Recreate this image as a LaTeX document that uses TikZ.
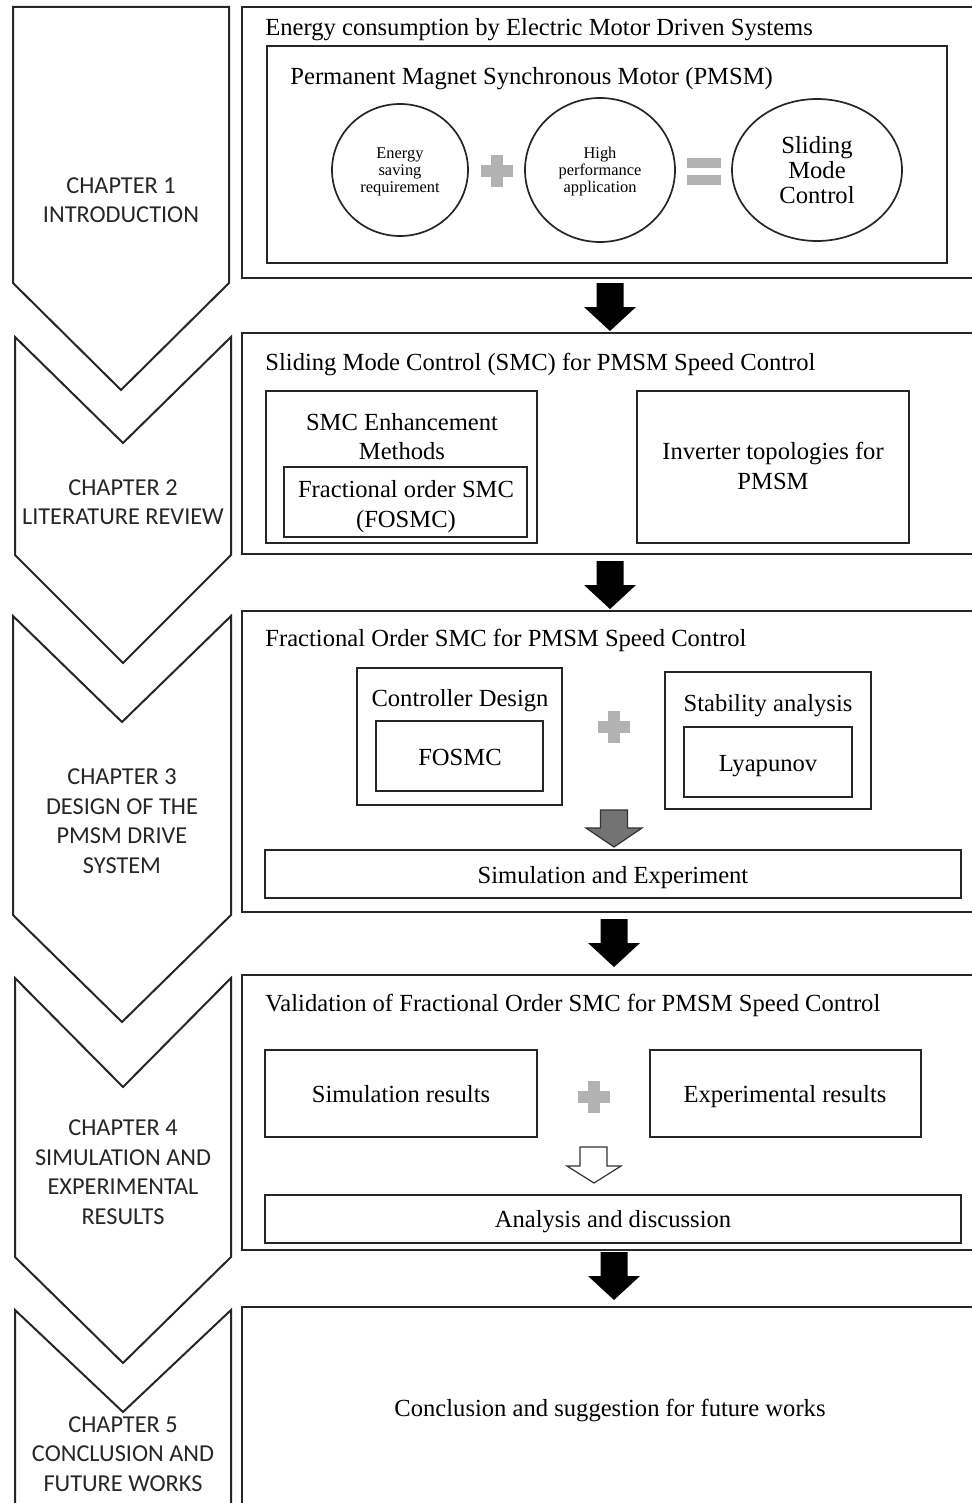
\documentclass[tikz,border=0pt]{standalone}
\usepackage{fontspec}
\setmainfont{Liberation Serif}
\newfontfamily\chapfont{Carlito}
\usetikzlibrary{arrows.meta,positioning,calc}

\begin{document}
\begin{tikzpicture}[x=0.5pt,y=-0.5pt,
    chapter/.style={align=center,text=black!85,font=\chapfont\fontsize{12.15}{14.75}\selectfont},
    frame/.style={draw=black!85,line width=1pt},
    box/.style={draw=black!85,line width=0.85pt},
    title/.style={anchor=west,inner sep=0pt,yshift=-1.4pt,font=\fontsize{12.3}{14}\selectfont},
    label/.style={align=center,inner sep=0pt,yshift=-1.4pt,font=\fontsize{12.3}{14.75}\selectfont},
    plussign/.style={fill=black!30}]
  \clip (0,0) rectangle (972,1503);
  \useasboundingbox (0,0) rectangle (972,1503);

  % Chapter chevrons
  \draw[frame] (13,7) -- (229,7) -- (229,283) -- (121,390) -- (13,283) -- cycle;
  \draw[frame] (15,337) -- (123,443) -- (231,337) -- (231,555) -- (123,663) -- (15,555) -- cycle;
  \draw[frame] (13,616) -- (122,722) -- (231,616) -- (231,915) -- (122,1022) -- (13,915) -- cycle;
  \draw[frame] (15,978) -- (123,1087) -- (231,978) -- (231,1257) -- (123,1363) -- (15,1257) -- cycle;
  \draw[frame] (15,1530) -- (15,1310) -- (123,1412) -- (231,1310) -- (231,1530);
  \node[chapter] (ch1) at (121,200) {CHAPTER 1\\INTRODUCTION};
  \node[chapter] (ch2) at (123,502) {CHAPTER 2\\LITERATURE REVIEW};
  \node[chapter] (ch3) at (122,821) {CHAPTER 3\\DESIGN OF THE\\PMSM DRIVE\\SYSTEM};
  \node[chapter] (ch4) at (123,1172) {CHAPTER 4\\SIMULATION AND\\EXPERIMENTAL\\RESULTS};
  \node[chapter] (ch5) at (123,1454) {CHAPTER 5\\CONCLUSION AND\\FUTURE WORKS};

  % Chapter 1 block
  \draw[frame] (242,7) rectangle (1000,278);
  \node[title] (intro) at (265,27) {Energy consumption by Electric Motor Driven Systems};
  \draw[box] (267,46) rectangle (947,263);
  \node[title] (pmsm) at (290,76) {Permanent Magnet Synchronous Motor (PMSM)};
  \draw[box] (400,170) ellipse [x radius=34pt,y radius=33pt];
  \draw[box] (600,170) ellipse [x radius=37.5pt,y radius=36pt];
  \draw[box] (817,170) ellipse [x radius=42.5pt,y radius=35.5pt];
  \node[label,font=\fontsize{8.2}{8.6}\selectfont] (energy) at (400,169) {Energy\\saving\\requirement};
  \node[label,font=\fontsize{8.2}{8.6}\selectfont] (perf) at (600,169) {High\\performance\\application};
  \node[label,font=\fontsize{12.3}{12.5}\selectfont] (smc) at (817,167) {Sliding\\Mode\\Control};
  \fill[plussign] (687,158) rectangle (721,168);
  \fill[plussign] (687,175) rectangle (721,185);

  % Chapter 2 block
  \draw[frame] (242,333) rectangle (1000,554);
  \node[title] (review) at (265,362) {Sliding Mode Control (SMC) for PMSM Speed Control};
  \draw[box] (266,391) rectangle (537,543);
  \node[label] (enh) at (402,434) {SMC Enhancement\\Methods};
  \draw[box] (284,467) rectangle (527,537);
  \node[label] (fosmc) at (406,504) {Fractional order SMC\\(FOSMC)};
  \draw[box] (637,391) rectangle (909,543);
  \node[label] (inv) at (773,463) {Inverter topologies for\\PMSM};

  % Chapter 3 block
  \draw[frame] (242,611) rectangle (1000,912);
  \node[title] (design) at (265,638) {Fractional Order SMC for PMSM Speed Control};
  \draw[box] (357,668) rectangle (562,805);
  \node[label] (ctrl) at (460,698) {Controller Design};
  \draw[box] (376,721) rectangle (543,791);
  \node[label] (fo) at (460,755) {FOSMC};
  \draw[box] (665,672) rectangle (871,809);
  \node[label] (stab) at (768,703) {Stability analysis};
  \draw[box] (684,727) rectangle (852,797);
  \node[label] (lyap) at (768,763) {Lyapunov};
  \draw[box] (265,850) rectangle (961,898);
  \node[label] (simexp) at (613,875) {Simulation and Experiment};
  % grey arrow
  \filldraw[fill=black!55,draw=black!80,line width=0.6pt] (600.5,810) -- (627.5,810) -- (627.5,828)
    -- (642,828) -- (614,847) -- (586,828) -- (600.5,828) -- cycle;

  % Chapter 4 block
  \draw[frame] (242,975) rectangle (1000,1250);
  \node[title] (valid) at (265,1003) {Validation of Fractional Order SMC for PMSM Speed Control};
  \draw[box] (265,1050) rectangle (537,1137);
  \node[label] (simres) at (401,1091) {Simulation results};
  \draw[box] (650,1050) rectangle (921,1137);
  \node[label] (expres) at (785,1094) {Experimental results};
  \draw[box] (265,1195) rectangle (961,1243);
  \node[label] (anal) at (613,1219) {Analysis and discussion};
  % white arrow
  \filldraw[fill=white,draw=black!80,line width=0.6pt] (580,1147) -- (607,1147) -- (607,1166)
    -- (621,1166) -- (594,1183) -- (567,1166) -- (580,1166) -- cycle;

  % Chapter 5 block
  \draw[frame] (242,1307) rectangle (1000,1530);
  \node[label] (concl) at (610,1408) {Conclusion and suggestion for future works};

  % plus signs
  \foreach \px/\py in {497/171,614/727,594/1097}{
    \fill[plussign] ({\px-16},{\py-6}) rectangle ({\px+16},{\py+6});
    \fill[plussign] ({\px-6},{\py-16}) rectangle ({\px+6},{\py+16});
  }
  % black arrows between blocks
  \foreach \ax/\ay in {610/283,610/561,614/919,614/1252}{
    \fill[black] ({\ax-13.5},\ay) -- ({\ax+13.5},\ay) -- ({\ax+13.5},{\ay+24}) -- ({\ax+26},{\ay+24})
      -- (\ax,{\ay+48}) -- ({\ax-26},{\ay+24}) -- ({\ax-13.5},{\ay+24}) -- cycle;
  }
\end{tikzpicture}
\end{document}
